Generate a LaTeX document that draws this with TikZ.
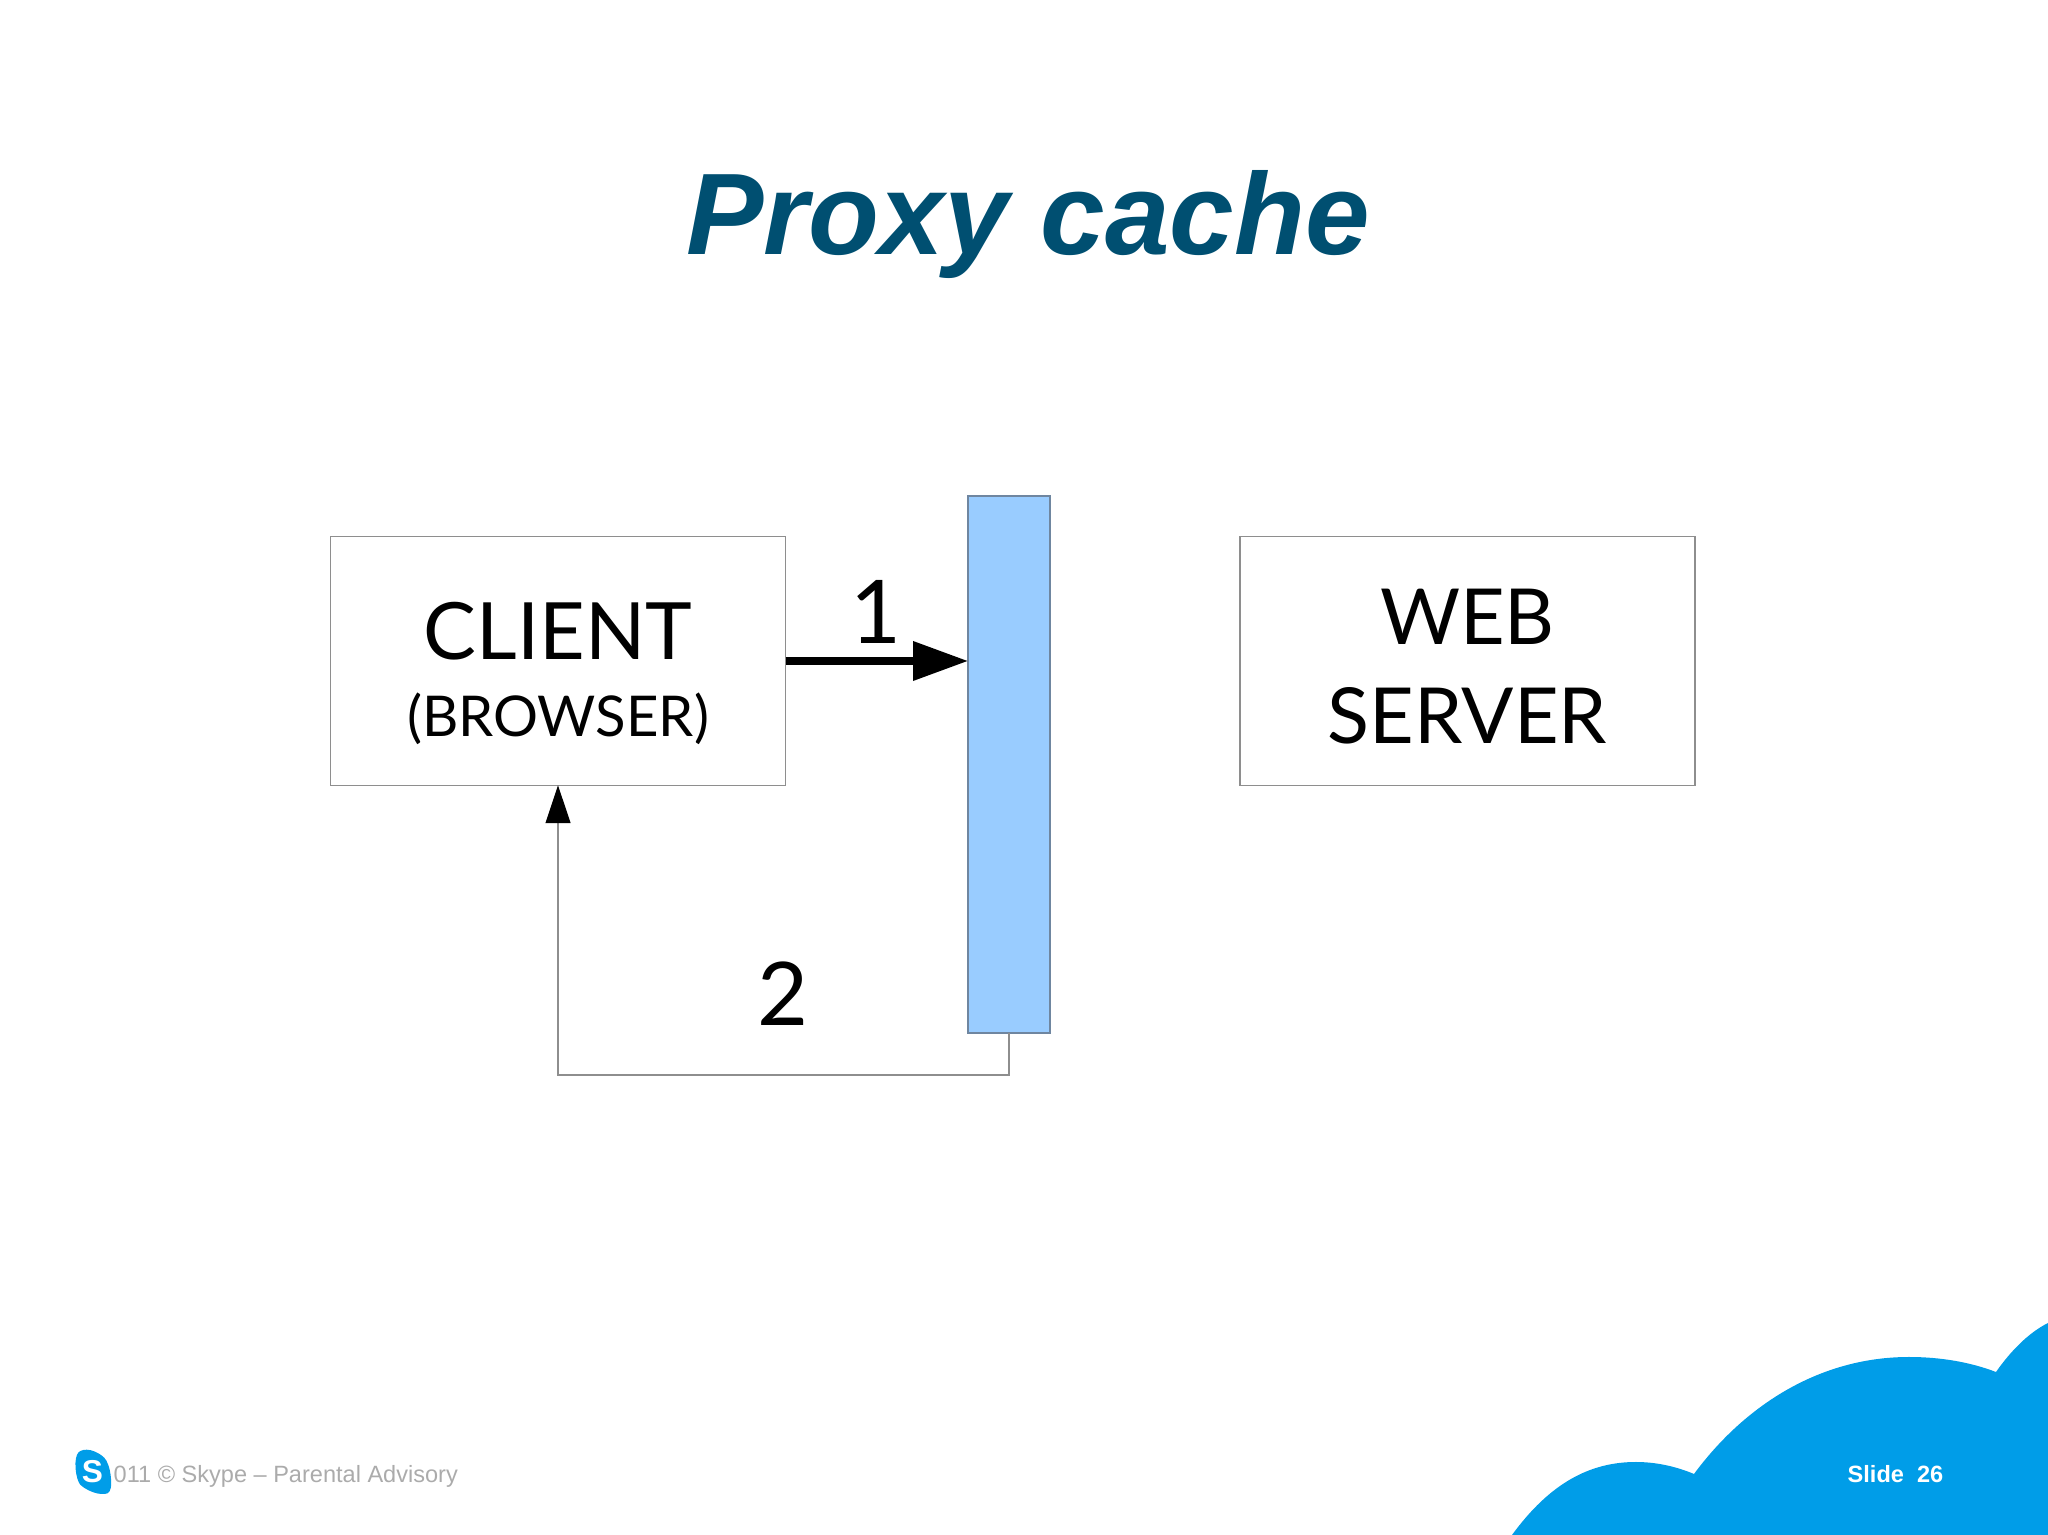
\documentclass[tikz,border=0pt]{standalone}
\usepackage{fontspec}
\usepackage{xcolor}
\setmainfont{Liberation Sans}
\newfontfamily\gillfont{Lato}
\usetikzlibrary{arrows.meta, positioning}
\definecolor{TitleBlue}{HTML}{004F71}
\definecolor{SkyBlue}{HTML}{009DE8}
\definecolor{ProxyBlue}{HTML}{99CCFF}
\definecolor{BoxGray}{HTML}{8E8E8E}
\definecolor{BarEdge}{HTML}{6F86A0}
\definecolor{FootGray}{HTML}{ABABAB}

\begin{document}
\begin{tikzpicture}[
    hostbox/.style={rectangle, draw=BoxGray, line width=0.35pt, outer sep=0pt, minimum width=4.55cm,
                    minimum height=2.485cm, align=center, text=black,
                    font=\gillfont\fontsize{22.5}{22}\selectfont},
    proxybar/.style={rectangle, draw=BarEdge, fill=ProxyBlue, line width=0.35pt,
                     outer sep=0pt, minimum width=0.82cm, minimum height=5.37cm},
    steplabel/.style={font=\gillfont\fontsize{25}{25}\selectfont, text=black, inner sep=0pt}
]
    \useasboundingbox (0,0) rectangle (20.48,15.35);
    % cloud
    \fill[SkyBlue] (15.12,0) .. controls (15.50,0.52) and (15.90,0.73) .. (16.36,0.73)
        .. controls (16.55,0.73) and (16.75,0.69) .. (16.94,0.61)
        .. controls (17.45,1.30) and (18.20,1.78) .. (19.09,1.78)
        .. controls (19.40,1.78) and (19.70,1.73) .. (19.96,1.63)
        .. controls (20.10,1.83) and (20.28,2.02) .. (20.48,2.12)
        -- (20.48,0) -- cycle;
    \node[font=\bfseries\itshape\fontsize{33}{33}\selectfont, text=TitleBlue, anchor=base] (title) at (10.28,12.80) {Proxy cache};
    \node[hostbox] (client) at (5.58,8.74) {\rule{0pt}{23.4pt}CLIENT\\{\fontsize{16}{16}\selectfont (BROWSER)}};
    \node[hostbox, right=4.545cm of client, font=\gillfont\fontsize{22}{28}\selectfont] (server) {\rule{0pt}{19pt}WEB\\SERVER};
    \node[proxybar] (proxy) at (10.09,7.705) {};
    \draw[line width=2pt, -{Triangle[length=0.55cm, width=0.38cm]}] (client.east) -- (client.east -| proxy.west);
    \draw[BoxGray, line width=0.35pt, -{Triangle[length=0.38cm, width=0.25cm, color=black]}] (proxy.south) -- ++(0,-0.42) -| (client.south);
    \node[steplabel, anchor=base] (one) at (8.76,8.91) {1};
    \node[steplabel, anchor=base] (two) at (7.83,5.09) {2};
    % footer
    \node[font=\fontsize{6.7}{6.7}\selectfont, text=FootGray, anchor=base west, inner sep=0pt] (copy) at (1.13,0.52) {011 © Skype – Parental Advisory};
    \fill[SkyBlue] plot[smooth cycle, tension=0.7] coordinates {(0.76,0.767) (0.833,0.85) (0.983,0.817) (1.083,0.70)
        (1.107,0.467) (1.017,0.41) (0.85,0.467) (0.773,0.567)};
    \node[font=\bfseries\fontsize{9}{9}\selectfont, text=white, inner sep=0pt] (logo) at (0.925,0.63) {S};
    \node[font=\bfseries\fontsize{6.7}{6.7}\selectfont, text=white, anchor=base west, inner sep=0pt] (slide) at (18.47,0.52) {Slide\ \ 26};
\end{tikzpicture}
\end{document}
